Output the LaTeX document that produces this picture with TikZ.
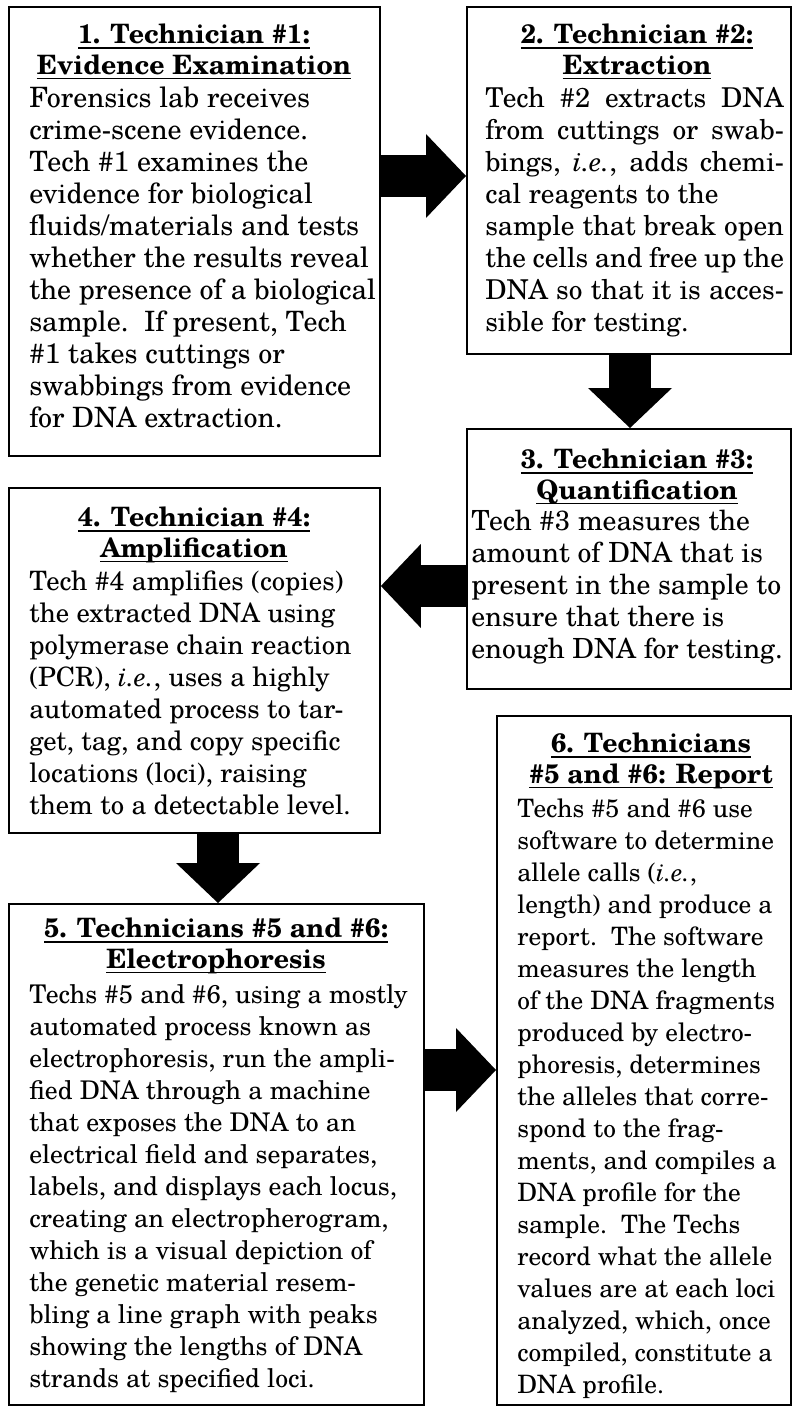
\documentclass[tikz,border=0pt]{standalone}
\usepackage{fontspec}
\setmainfont{texgyreschola}[Extension=.otf, UprightFont=*-regular, BoldFont=*-bold, ItalicFont=*-italic, BoldItalicFont=*-bolditalic]
\usetikzlibrary{arrows.meta, positioning, calc}

% underline as in the step titles
\newcommand{\hdline}[1]{\setbox0\hbox{#1}\rlap{\rule[-3.6pt]{\wd0}{1.3pt}}\box0}
% justified line of box 2
\newcommand{\jline}[1]{\makebox[224pt][s]{#1}}

\begin{document}
\begin{tikzpicture}[x=0.75pt, y=-0.75pt,
  box/.style={draw, line width=1.4pt, inner sep=0pt, anchor=north west},
  head/.style={anchor=north, inner sep=0pt, align=center, font=\bfseries\fontsize{20}{23}\selectfont},
  body/.style={anchor=north west, inner sep=0pt, align=left, font=\fontsize{#1}{24}\selectfont},
  body/.default=20,
  flow/.style={line width=31.5pt, -{Triangle[width=63pt, length=30pt, line width=0pt]}}]
\useasboundingbox (0,0) rectangle (794,1408);

% frames
\node[box, minimum width=278.25pt, minimum height=336.75pt] (tech1) at (8,6) {};
\node[box, minimum width=243pt, minimum height=260.25pt] (tech2) at (466,6) {};
\node[box, minimum width=243pt, minimum height=195pt] (tech3) at (466,428) {};
\node[box, minimum width=278.25pt, minimum height=258.75pt] (tech4) at (8,487) {};
\node[box, minimum width=311.25pt, minimum height=375.75pt] (tech5) at (8,903) {};
\node[box, minimum width=220.5pt, minimum height=516.75pt] (tech6) at (496,715) {};

% 1
\node[head] (tech1-title) at (194,24) {\hdline{1. Technician \#1:}\\\hdline{Evidence Examination}};
\node[body=21] (tech1-text) at (29,87) {Forensics lab receives\\
crime-scene evidence.\\
Tech \#1 examines the\\
evidence for biological\\
fluids/materials and tests\\
whether the results reveal\\
the presence of a biological\\
sample.\ \ If present, Tech\\
\#1 takes cuttings or\\
swabbings from evidence\\
for DNA extraction.};

% 2
\node[head] (tech2-title) at (637,24) {\hdline{2. Technician \#2:}\\\hdline{Extraction}};
\node[body=20.5] (tech2-text) at (485,87) {\jline{Tech \#2 extracts DNA}\\
\jline{from cuttings or swab-}\\
\jline{bings, \textit{i.e.}, adds chemi-}\\
cal reagents to the\\
\jline{sample that break open}\\
\jline{the cells and free up the}\\
\jline{DNA so that it is acces-}\\
sible for testing.};

% 3
\node[head] (tech3-title) at (637,449) {\hdline{3. Technician \#3:}\\\hdline{Quantification}};
\node[body=20.8] (tech3-text) at (471,510) {Tech \#3 measures the\\
amount of DNA that is\\
present in the sample to\\
ensure that there is\\
enough DNA for testing.};

% 4
\node[head] (tech4-title) at (194,507) {\hdline{4. Technician \#4:}\\\hdline{Amplification}};
\node[body] (tech4-text) at (29,571) {Tech \#4 amplifies (copies)\\
the extracted DNA using\\
polymerase chain reaction\\
(PCR), \textit{i.e.}, uses a highly\\
automated process to tar-\\
get, tag, and copy specific\\
locations (loci), raising\\
them to a detectable level.};

% 5
\node[head] (tech5-title) at (216,918) {\hdline{5. Technicians \#5 and \#6:}\\\hdline{Electrophoresis}};
\node[body=19.3] (tech5-text) at (29,984) {Techs \#5 and \#6, using a mostly\\
automated process known as\\
electrophoresis, run the ampli-\\
fied DNA through a machine\\
that exposes the DNA to an\\
electrical field and separates,\\
labels, and displays each locus,\\
creating an electropherogram,\\
which is a visual depiction of\\
the genetic material resem-\\
bling a line graph with peaks\\
showing the lengths of DNA\\
strands at specified loci.};

% 6
\node[head] (tech6-title) at (651,733) {\hdline{6. Technicians}\\\hdline{\#5 and \#6: Report}};
\node[body=19] (tech6-text) at (517,799) {Techs \#5 and \#6 use\\
software to determine\\
allele calls (\textit{i.e.},\\
length) and produce a\\
report.\ \ The software\\
measures the length\\
of the DNA fragments\\
produced by electro-\\
phoresis, determines\\
the alleles that corre-\\
spond to the frag-\\
ments, and compiles a\\
DNA profile for the\\
sample.\ \ The Techs\\
record what the allele\\
values are at each loci\\
analyzed, which, once\\
compiled, constitute a\\
DNA profile.};

% block arrows
\draw[flow] (tech1.east |- 0,176) -- (tech2.west |- 0,176);
\draw[flow] (tech2.south -| 630,0) -- (tech3.north -| 630,0);
\draw[flow] (tech3.west |- 0,586) -- (tech4.east |- 0,586);
\draw[flow] (tech4.south -| 218,0) -- (tech5.north -| 218,0);
\draw[flow] (tech5.east |- 0,1070) -- (tech6.west |- 0,1070);
\end{tikzpicture}
\end{document}
